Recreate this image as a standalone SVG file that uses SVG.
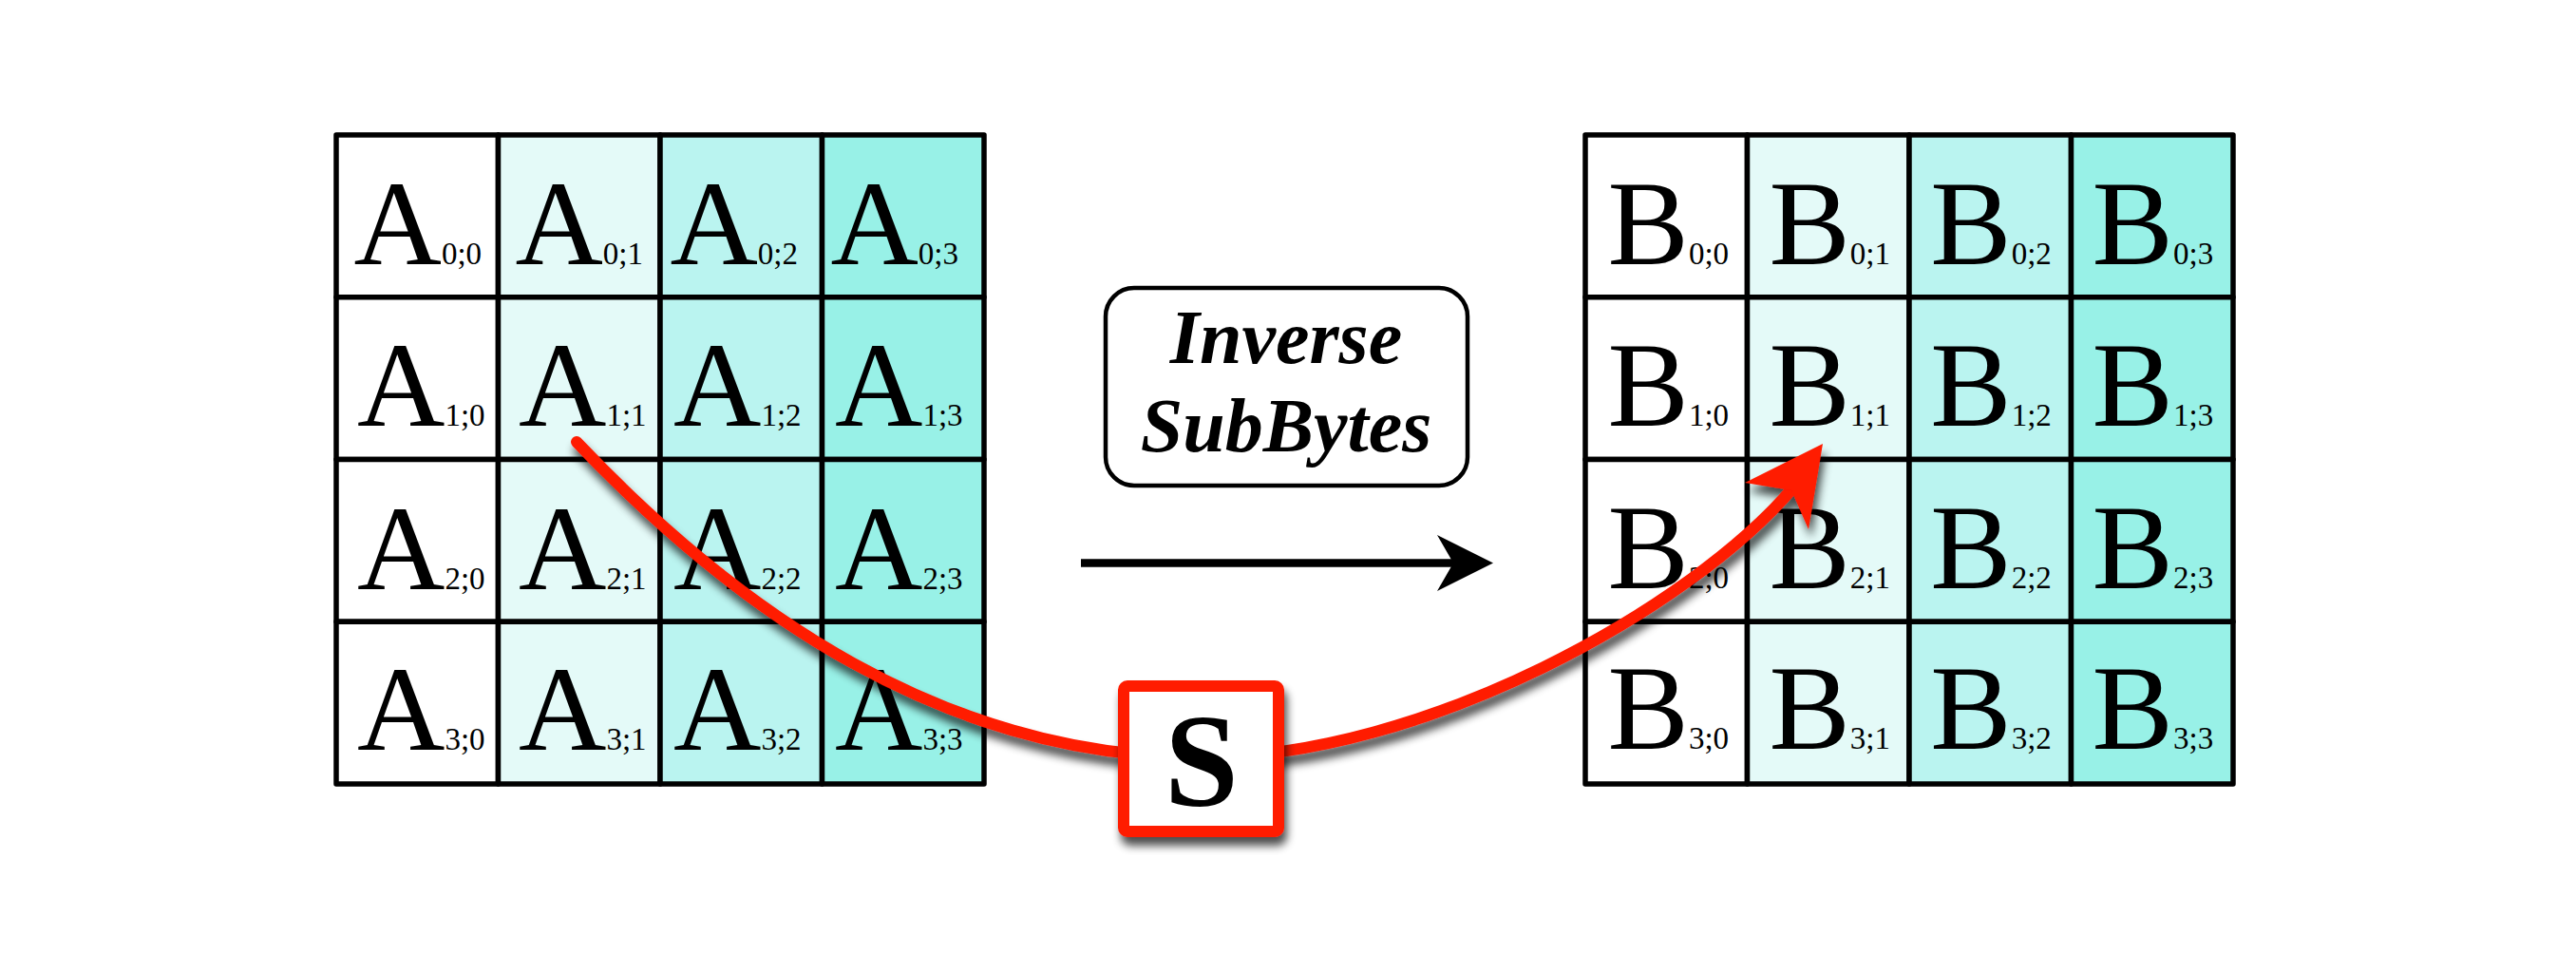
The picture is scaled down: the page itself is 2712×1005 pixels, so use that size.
<svg xmlns="http://www.w3.org/2000/svg" width="2712" height="1005" viewBox="0 0 2712 1005">
<defs>
<style>
.c{stroke:#000;stroke-width:5.5;stroke-linejoin:round}
.c0{fill:#ffffff}.c1{fill:#e4faf8}.c2{fill:#baf4f0}.c3{fill:#98f1e7}
.t{font-family:"Liberation Serif","Times New Roman",serif;font-size:128px;fill:#000}
.s{font-size:33px}
.lbl{font-family:"Liberation Serif","Times New Roman",serif;font-size:80px;font-weight:bold;font-style:italic;fill:#000}
.red{stroke:#ff1a00;fill:none;stroke-width:12;stroke-linecap:round}
</style>
<filter id="sh" filterUnits="userSpaceOnUse" x="0" y="0" width="2712" height="1005">
<feGaussianBlur in="SourceAlpha" stdDeviation="5"/>
<feOffset dx="3" dy="9"/>
<feComponentTransfer><feFuncA type="linear" slope="0.7"/></feComponentTransfer>
<feMerge><feMergeNode/><feMergeNode in="SourceGraphic"/></feMerge>
</filter>
</defs>
<rect width="2712" height="1005" fill="#fff"/>

<g id="gridA">
<g id="A00"><rect class="c c0" x="354" y="142" width="170.5" height="170.75"/><text class="t" x="372.5" y="278.4">A<tspan class="s">0;0</tspan></text></g>
<g id="A01"><rect class="c c1" x="524.5" y="142" width="170.5" height="170.75"/><text class="t" x="542.4" y="278.4">A<tspan class="s">0;1</tspan></text></g>
<g id="A02"><rect class="c c2" x="695" y="142" width="170.5" height="170.75"/><text class="t" x="705.4" y="278.4">A<tspan class="s">0;2</tspan></text></g>
<g id="A03"><rect class="c c3" x="865.5" y="142" width="170.5" height="170.75"/><text class="t" x="874.4" y="278.4">A<tspan class="s">0;3</tspan></text></g>
<g id="A10"><rect class="c c0" x="354" y="312.75" width="170.5" height="170.75"/><text class="t" x="376" y="448.3">A<tspan class="s">1;0</tspan></text></g>
<g id="A11"><rect class="c c1" x="524.5" y="312.75" width="170.5" height="170.75"/><text class="t" x="546" y="448.3">A<tspan class="s">1;1</tspan></text></g>
<g id="A12"><rect class="c c2" x="695" y="312.75" width="170.5" height="170.75"/><text class="t" x="709" y="448.3">A<tspan class="s">1;2</tspan></text></g>
<g id="A13"><rect class="c c3" x="865.5" y="312.75" width="170.5" height="170.75"/><text class="t" x="879" y="448.3">A<tspan class="s">1;3</tspan></text></g>
<g id="A20"><rect class="c c0" x="354" y="483.5" width="170.5" height="170.75"/><text class="t" x="376" y="620">A<tspan class="s">2;0</tspan></text></g>
<g id="A21"><rect class="c c1" x="524.5" y="483.5" width="170.5" height="170.75"/><text class="t" x="546" y="620">A<tspan class="s">2;1</tspan></text></g>
<g id="A22"><rect class="c c2" x="695" y="483.5" width="170.5" height="170.75"/><text class="t" x="709" y="620">A<tspan class="s">2;2</tspan></text></g>
<g id="A23"><rect class="c c3" x="865.5" y="483.5" width="170.5" height="170.75"/><text class="t" x="879" y="620">A<tspan class="s">2;3</tspan></text></g>
<g id="A30"><rect class="c c0" x="354" y="654.25" width="170.5" height="170.75"/><text class="t" x="376" y="789">A<tspan class="s">3;0</tspan></text></g>
<g id="A31"><rect class="c c1" x="524.5" y="654.25" width="170.5" height="170.75"/><text class="t" x="546" y="789">A<tspan class="s">3;1</tspan></text></g>
<g id="A32"><rect class="c c2" x="695" y="654.25" width="170.5" height="170.75"/><text class="t" x="709" y="789">A<tspan class="s">3;2</tspan></text></g>
<g id="A33"><rect class="c c3" x="865.5" y="654.25" width="170.5" height="170.75"/><text class="t" x="879" y="789">A<tspan class="s">3;3</tspan></text></g>
</g>

<g id="gridB">
<g id="B00"><rect class="c c0" x="1669" y="142" width="170.5" height="170.75"/><text class="t" x="1692.5" y="278.4">B<tspan class="s">0;0</tspan></text></g>
<g id="B01"><rect class="c c1" x="1839.5" y="142" width="170.5" height="170.75"/><text class="t" x="1862.4" y="278.4">B<tspan class="s">0;1</tspan></text></g>
<g id="B02"><rect class="c c2" x="2010" y="142" width="170.5" height="170.75"/><text class="t" x="2032.3" y="278.4">B<tspan class="s">0;2</tspan></text></g>
<g id="B03"><rect class="c c3" x="2180.5" y="142" width="170.5" height="170.75"/><text class="t" x="2202.6" y="278.4">B<tspan class="s">0;3</tspan></text></g>
<g id="B10"><rect class="c c0" x="1669" y="312.75" width="170.5" height="170.75"/><text class="t" x="1692.5" y="448.3">B<tspan class="s">1;0</tspan></text></g>
<g id="B11"><rect class="c c1" x="1839.5" y="312.75" width="170.5" height="170.75"/><text class="t" x="1862.4" y="448.3">B<tspan class="s">1;1</tspan></text></g>
<g id="B12"><rect class="c c2" x="2010" y="312.75" width="170.5" height="170.75"/><text class="t" x="2032.3" y="448.3">B<tspan class="s">1;2</tspan></text></g>
<g id="B13"><rect class="c c3" x="2180.5" y="312.75" width="170.5" height="170.75"/><text class="t" x="2202.6" y="448.3">B<tspan class="s">1;3</tspan></text></g>
<g id="B20"><rect class="c c0" x="1669" y="483.5" width="170.5" height="170.75"/><text class="t" x="1692.5" y="618.5">B<tspan class="s">2;0</tspan></text></g>
<g id="B21"><rect class="c c1" x="1839.5" y="483.5" width="170.5" height="170.75"/><text class="t" x="1862.4" y="618.5">B<tspan class="s">2;1</tspan></text></g>
<g id="B22"><rect class="c c2" x="2010" y="483.5" width="170.5" height="170.75"/><text class="t" x="2032.3" y="618.5">B<tspan class="s">2;2</tspan></text></g>
<g id="B23"><rect class="c c3" x="2180.5" y="483.5" width="170.5" height="170.75"/><text class="t" x="2202.6" y="618.5">B<tspan class="s">2;3</tspan></text></g>
<g id="B30"><rect class="c c0" x="1669" y="654.25" width="170.5" height="170.75"/><text class="t" x="1692.5" y="788">B<tspan class="s">3;0</tspan></text></g>
<g id="B31"><rect class="c c1" x="1839.5" y="654.25" width="170.5" height="170.75"/><text class="t" x="1862.4" y="788">B<tspan class="s">3;1</tspan></text></g>
<g id="B32"><rect class="c c2" x="2010" y="654.25" width="170.5" height="170.75"/><text class="t" x="2032.3" y="788">B<tspan class="s">3;2</tspan></text></g>
<g id="B33"><rect class="c c3" x="2180.5" y="654.25" width="170.5" height="170.75"/><text class="t" x="2202.6" y="788">B<tspan class="s">3;3</tspan></text></g>
</g>

<g id="op">
<rect x="1164" y="303" width="381" height="208" rx="30" fill="#fff" stroke="#000" stroke-width="4.5"/>
<text class="lbl" x="1354" y="382" text-anchor="middle">Inverse</text>
<text class="lbl" x="1354" y="475" text-anchor="middle">SubBytes</text>
</g>

<g id="connectors">
<g id="mainArrow">
<line x1="1138" y1="592.5" x2="1535" y2="592.5" stroke="#000" stroke-width="8.3"/>
<polygon points="1572,592.5 1513,563 1530,592.5 1513,622" fill="#000"/>
</g>
<g id="sArrow" filter="url(#sh)">
<path class="red" d="M607,465 C777,644 995,797 1265,797 C1500,797 1780,640 1888,513"/>
<polygon points="1919,467 1837,508 1886,516 1904,557" fill="#ff1a00"/>
</g>
</g>

<g id="sbox" filter="url(#sh)">
<rect x="1183" y="722" width="163" height="153" rx="4" fill="#fff" stroke="#ff1a00" stroke-width="12"/>
<text x="1265" y="848" text-anchor="middle" font-family="'Liberation Serif','Times New Roman',serif" font-size="140" font-weight="bold" fill="#000">S</text>
</g>
</svg>
